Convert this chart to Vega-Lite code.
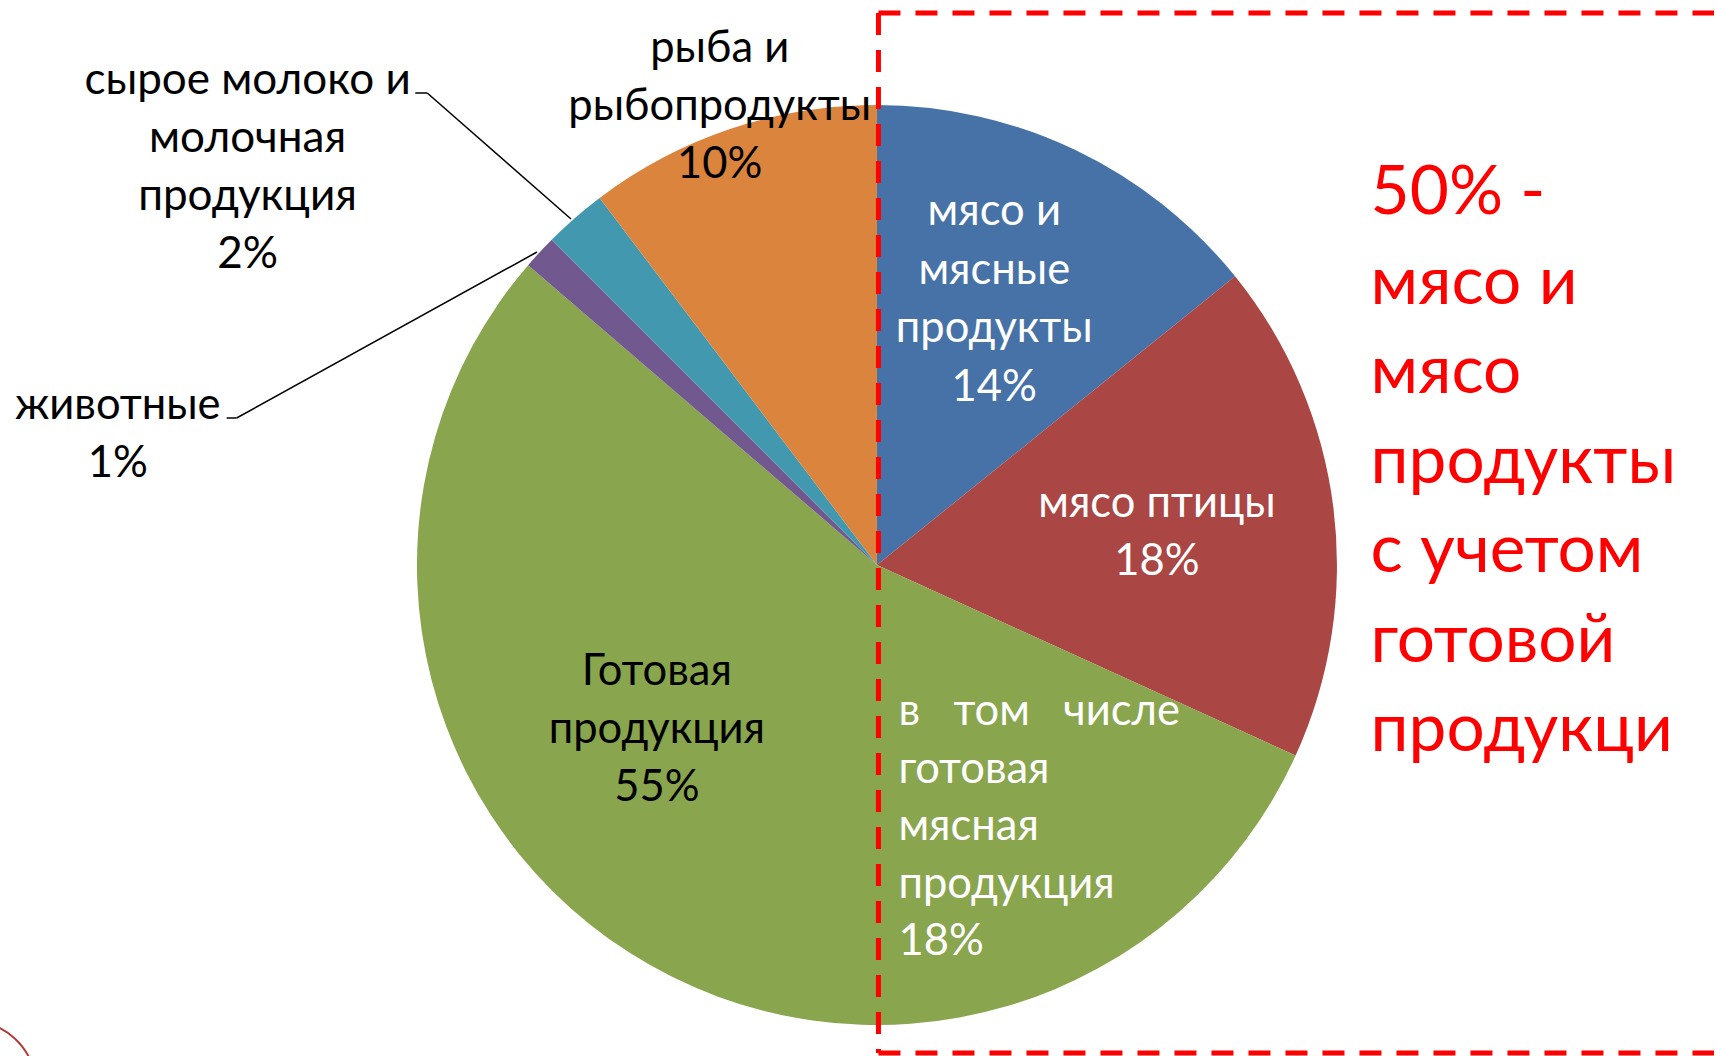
{
"$schema":"https://vega.github.io/schema/vega-lite/v6.json",
"width":1717,"height":1056,"padding":0,
"autosize":{"type":"fit","contains":"padding"},
"background":"white",
"config":{"view":{"stroke":null},"axis":{"disable":true}},
"datasets":{"slices":[
{"category":"мясо и мясные продукты","share":14.2,"rank":1},
{"category":"мясо птицы","share":17.6,"rank":2},
{"category":"Готовая продукция","share":54.5,"rank":3},
{"category":"животные","share":1.2,"rank":4},
{"category":"сырое молоко и молочная продукция","share":2.2,"rank":5},
{"category":"рыба и рыбопродукты","share":10.3,"rank":6}
]},
"layer":[
{"data":{"name":"slices"},"mark":{"type":"arc","radius":460,"radius2":0,"stroke":null},
"encoding":{
"x":{"datum":878.5,"scale":{"domain":[0,1717]}},
"y":{"datum":565,"scale":{"domain":[1056,0]}},
"theta":{"field":"share","type":"quantitative","stack":true,"scale":{"domain":[0,100],"range":[0,6.283185]}},
"order":{"field":"rank","type":"ordinal"},
"color":{"field":"category","type":"nominal","legend":null,"scale":{"domain":["мясо и мясные продукты","мясо птицы","Готовая продукция","животные","сырое молоко и молочная продукция","рыба и рыбопродукты"],"range":["#4672A7","#AA4643","#89A54E","#71588F","#4198AF","#DB843D"]}}
}},
{"data":{"values":[{"n":"leader"}]},"mark":{"type":"rule","stroke":"black","strokeWidth":1.5},"encoding":{"x":{"datum":428,"scale":{"domain":[0,1717]}},"y":{"datum":93,"scale":{"domain":[1056,0]}},"x2":{"datum":572},"y2":{"datum":219}}},
{"data":{"values":[{"n":"leader"}]},"mark":{"type":"rule","stroke":"black","strokeWidth":1.5},"encoding":{"x":{"datum":416,"scale":{"domain":[0,1717]}},"y":{"datum":93,"scale":{"domain":[1056,0]}},"x2":{"datum":428},"y2":{"datum":93}}},
{"data":{"values":[{"n":"leader"}]},"mark":{"type":"rule","stroke":"black","strokeWidth":1.5},"encoding":{"x":{"datum":237,"scale":{"domain":[0,1717]}},"y":{"datum":418,"scale":{"domain":[1056,0]}},"x2":{"datum":538},"y2":{"datum":252}}},
{"data":{"values":[{"n":"leader"}]},"mark":{"type":"rule","stroke":"black","strokeWidth":1.5},"encoding":{"x":{"datum":227,"scale":{"domain":[0,1717]}},"y":{"datum":418,"scale":{"domain":[1056,0]}},"x2":{"datum":237},"y2":{"datum":418}}},
{"data":{"values":[{"label":"рыба и\nрыбопродукты\n10%"}]},"mark":{"type":"text","lineBreak":"\n","font":"Lato","fontSize":43.5,"lineHeight":58,"align":"center","baseline":"middle","fill":"black"},"encoding":{"x":{"datum":721,"scale":{"domain":[0,1717]}},"y":{"datum":49,"scale":{"domain":[1056,0]}},"text":{"field":"label"}}},
{"data":{"values":[{"label":"сырое молоко и\nмолочная\nпродукция\n2%"}]},"mark":{"type":"text","lineBreak":"\n","font":"Lato","fontSize":44,"lineHeight":58,"align":"center","baseline":"middle","fill":"black"},"encoding":{"x":{"datum":248,"scale":{"domain":[0,1717]}},"y":{"datum":81,"scale":{"domain":[1056,0]}},"text":{"field":"label"}}},
{"data":{"values":[{"label":"животные\n1%"}]},"mark":{"type":"text","lineBreak":"\n","font":"Lato","fontSize":43.5,"lineHeight":58,"align":"center","baseline":"middle","fill":"black"},"encoding":{"x":{"datum":118,"scale":{"domain":[0,1717]}},"y":{"datum":406,"scale":{"domain":[1056,0]}},"text":{"field":"label"}}},
{"data":{"values":[{"label":"мясо и\nмясные\nпродукты\n14%"}]},"mark":{"type":"text","lineBreak":"\n","font":"Lato","fontSize":43.5,"lineHeight":58.5,"align":"center","baseline":"middle","fill":"white"},"encoding":{"x":{"datum":996,"scale":{"domain":[0,1717]}},"y":{"datum":212,"scale":{"domain":[1056,0]}},"text":{"field":"label"}}},
{"data":{"values":[{"label":"мясо птицы\n18%"}]},"mark":{"type":"text","lineBreak":"\n","font":"Lato","fontSize":43.5,"lineHeight":58,"align":"center","baseline":"middle","fill":"white"},"encoding":{"x":{"datum":1159,"scale":{"domain":[0,1717]}},"y":{"datum":504,"scale":{"domain":[1056,0]}},"text":{"field":"label"}}},
{"data":{"values":[{"label":"в\u00a0\u00a0\u00a0том\u00a0\u00a0\u00a0числе\nготовая\nмясная\nпродукция\n18%"}]},"mark":{"type":"text","lineBreak":"\n","font":"Lato","fontSize":43.5,"lineHeight":57.5,"align":"left","baseline":"middle","fill":"white"},"encoding":{"x":{"datum":900,"scale":{"domain":[0,1717]}},"y":{"datum":712,"scale":{"domain":[1056,0]}},"text":{"field":"label"}}},
{"data":{"values":[{"label":"Готовая\nпродукция\n55%"}]},"mark":{"type":"text","lineBreak":"\n","font":"Lato","fontSize":43.5,"lineHeight":58,"align":"center","baseline":"middle","fill":"black"},"encoding":{"x":{"datum":658,"scale":{"domain":[0,1717]}},"y":{"datum":672,"scale":{"domain":[1056,0]}},"text":{"field":"label"}}},
{"data":{"values":[{"label":"50% -\nмясо и\nмясо\nпродукты\nс учетом\nготовой\nпродукци"}]},"mark":{"type":"text","lineBreak":"\n","font":"Lato","fontSize":67.5,"lineHeight":89.5,"align":"left","baseline":"middle","fill":"#FF0000"},"encoding":{"x":{"datum":1373,"scale":{"domain":[0,1717]}},"y":{"datum":194,"scale":{"domain":[1056,0]}},"text":{"field":"label"}}},
{"data":{"values":[{"n":"frame"}]},"mark":{"type":"rule","stroke":"#FF0000","strokeWidth":5,"strokeDash":[22,15]},"encoding":{"x":{"datum":880,"scale":{"domain":[0,1717]}},"y":{"datum":13,"scale":{"domain":[1056,0]}},"x2":{"datum":1717},"y2":{"datum":13}}},
{"data":{"values":[{"n":"frame"}]},"mark":{"type":"rule","stroke":"#FF0000","strokeWidth":5,"strokeDash":[22,15]},"encoding":{"x":{"datum":880,"scale":{"domain":[0,1717]}},"y":{"datum":13,"scale":{"domain":[1056,0]}},"x2":{"datum":880},"y2":{"datum":1053}}},
{"data":{"values":[{"n":"frame"}]},"mark":{"type":"rule","stroke":"#FF0000","strokeWidth":5,"strokeDash":[22,15]},"encoding":{"x":{"datum":880,"scale":{"domain":[0,1717]}},"y":{"datum":1053,"scale":{"domain":[1056,0]}},"x2":{"datum":1717},"y2":{"datum":1053}}},
{"data":{"values":[{"n":"stamp"}]},"mark":{"type":"arc","radius":66,"radius2":66,"theta":0.2,"theta2":1.3,"fill":null,"stroke":"#B23A3A","strokeWidth":2,"clip":true},"encoding":{"x":{"datum":-30,"scale":{"domain":[0,1717]}},"y":{"datum":1087,"scale":{"domain":[1056,0]}}}}
]
}
